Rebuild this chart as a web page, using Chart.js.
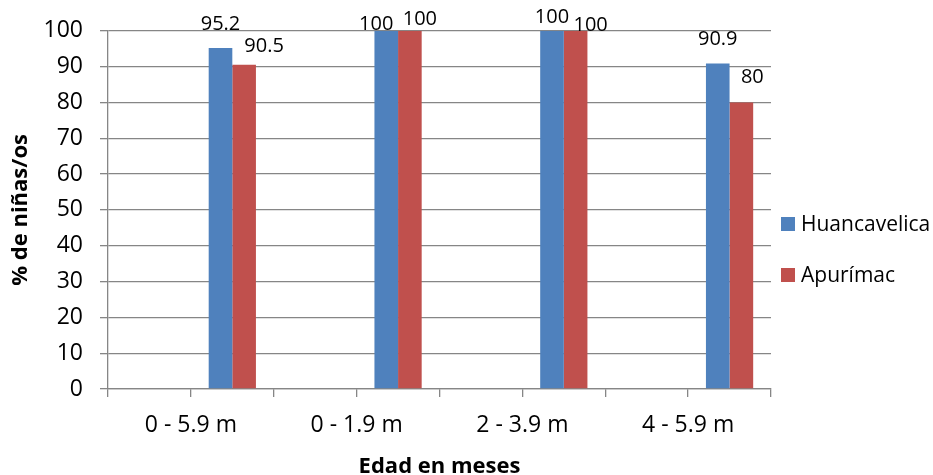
<!DOCTYPE html>
<html>
<head>
<meta charset="utf-8">
<script src="https://cdn.jsdelivr.net/npm/chart.js@4.4.1/dist/chart.umd.min.js"></script>
<style>
  html, body { margin: 0; padding: 0; background: #fff; }
  #wrap { width: 933px; height: 475px; }
</style>
</head>
<body>
<div id="wrap"><canvas id="chart" width="933" height="475"></canvas></div>
<script>
// age groups and % of children per region
const categories = ["0 - 5.9 m", "0 - 1.9 m", "2 - 3.9 m", "4 - 5.9 m"];
const huancavelica = [95.2, 100, 100, 90.9];
const apurimac = [90.5, 100, 100, 80];

// nudges for the value labels (dx, dy from the top centre of each bar)
const shiftHuancavelica = [[0, -24], [-10, -7], [0, -14], [0, -24]];
const shiftApurimac = [[20, -19], [10, -12], [15, -6], [11, -25]];

const axisGray = "#868686";

// every group is split in two half slots, the bars go in the right one
const slots = categories.flatMap(c => ["", c]);
const spread = arr => arr.flatMap(v => [null, v]);

Chart.defaults.font.family = "'Open Sans', sans-serif";
Chart.defaults.color = "#000";

// value text over each bar
const valueLabels = {
  id: "valueLabels",
  afterDatasetsDraw(chart) {
    const ctx = chart.ctx;
    ctx.save();
    ctx.font = "20px 'Open Sans'";
    ctx.fillStyle = "#000";
    ctx.textAlign = "center";
    ctx.textBaseline = "middle";
    chart.data.datasets.forEach((ds, di) => {
      const meta = chart.getDatasetMeta(di);
      meta.data.forEach((bar, i) => {
        const v = ds.data[i];
        if (v == null) return;
        const [dx, dy] = ds.shift[(i - 1) / 2];
        ctx.fillText(String(v), bar.x + dx, bar.y + dy);
      });
    });
    ctx.restore();
  }
};

// legend on the right side
const sideLegend = {
  id: "sideLegend",
  afterDraw(chart) {
    const ctx = chart.ctx;
    const x = chart.chartArea.right + 10;
    ctx.save();
    ctx.font = "21px 'Open Sans'";
    ctx.textBaseline = "middle";
    ctx.textAlign = "left";
    chart.data.datasets.forEach((ds, i) => {
      const y = 224 + i * 51;
      ctx.fillStyle = ds.backgroundColor;
      ctx.fillRect(x, y - 7, 14, 14);
      ctx.fillStyle = "#000";
      ctx.fillText(ds.label, x + 20, y + 1);
    });
    ctx.restore();
  }
};

new Chart(document.getElementById("chart"), {
  type: "bar",
  data: {
    labels: slots,
    datasets: [
      {
        label: "Huancavelica",
        data: spread(huancavelica),
        backgroundColor: "#4F81BD",
        shift: shiftHuancavelica
      },
      {
        label: "Apurímac",
        data: spread(apurimac),
        backgroundColor: "#C0504D",
        shift: shiftApurimac
      }
    ]
  },
  options: {
    responsive: false,
    animation: false,
    devicePixelRatio: 1,
    categoryPercentage: 0.57,
    barPercentage: 1,
    layout: { padding: { top: 30, right: 162, bottom: 0, left: 0 } },
    plugins: {
      legend: { display: false },
      tooltip: { enabled: false }
    },
    scales: {
      y: {
        min: 0,
        max: 100,
        ticks: { stepSize: 10, font: { size: 23 }, padding: 17 },
        grid: { color: axisGray, lineWidth: 1.3, tickLength: 8 },
        border: { color: axisGray, width: 1.3 },
        title: {
          display: true,
          text: "% de niñas/os",
          font: { size: 22, weight: "bold" },
          padding: { top: 8, bottom: 0 }
        },
        afterFit(s) { s.width = 108; }
      },
      x: {
        type: "category",
        offset: true,
        weight: 0,
        ticks: { display: false },
        grid: {
          drawOnChartArea: false,
          drawTicks: true,
          tickLength: 8,
          color: axisGray,
          lineWidth: 1.3,
          offset: true
        },
        border: { color: axisGray, width: 1.3 },
        afterFit(s) { s.height = 8; }
      },
      x2: {
        type: "category",
        position: "bottom",
        labels: categories,
        offset: true,
        weight: 1,
        grid: { display: false, drawTicks: false },
        border: { display: false },
        ticks: { font: { size: 23 }, padding: 15 },
        title: {
          display: true,
          text: "Edad en meses",
          font: { size: 22, weight: "bold", lineHeight: 1 },
          padding: { top: 0, bottom: -3 }
        },
        afterFit(s) { s.height = 78; }
      }
    }
  },
  plugins: [valueLabels, sideLegend]
});
</script>
</body>
</html>
